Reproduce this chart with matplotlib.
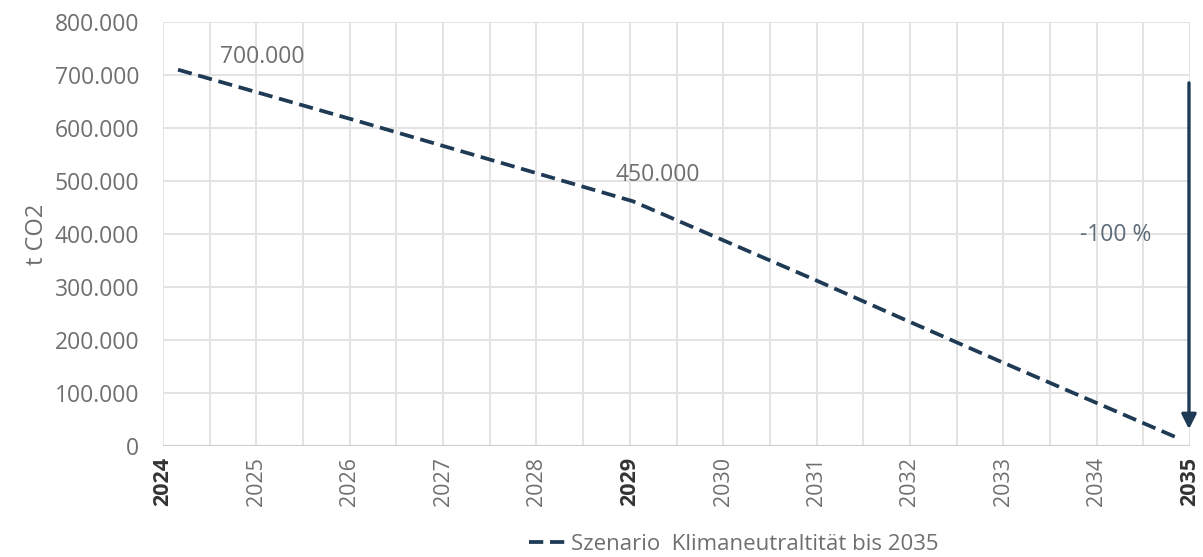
import matplotlib
matplotlib.use('Agg')
import matplotlib.pyplot as plt
import numpy as np

plt.rcParams['font.family'] = ['Open Sans', 'DejaVu Sans']

# Data
years = [2024, 2025, 2026, 2027, 2028, 2029, 2030, 2031, 2032, 2033, 2034, 2035]
emissions = [710000, 661000, 612000, 562000, 512000, 462000, 388000, 314000, 238000, 163000, 89000, 15000]
bold_years = [2024, 2029, 2035]
point_labels = {2024: '700.000', 2029: '450.000'}
y_ticks = [0, 100000, 200000, 300000, 400000, 500000, 600000, 700000, 800000]
series_name = 'Szenario  Klimaneutraltität bis 2035'
change_label = '-100 %'

line_color = '#1e3a54'
text_color = '#6f6f6f'
grid_color = '#e3e3e3'

fig = plt.figure(figsize=(12.03, 5.57), dpi=100)
ax = fig.add_axes([0.1355, 0.1993, 0.8537, 0.7612])

# x-range: the line starts a bit inside the frame
x0, x1 = 2023.835, 2035.133
ax.set_xlim(x0, x1)
ax.set_ylim(0, 800000)

line, = ax.plot(years, emissions, color=line_color, lw=2.7,
                linestyle=(0, (3.8, 1.8)), dash_capstyle='butt',
                label=series_name, zorder=3)

# grid: 22 columns, a label every 2nd line
grid_x = np.linspace(x0, x1, 23)
for gx in grid_x:
    ax.axvline(gx, color=grid_color, lw=1.4, zorder=0)
for gy in y_ticks:
    ax.axhline(gy, color=grid_color, lw=1.4, zorder=0)

ax.set_xticks(grid_x[::2])
ax.set_xticklabels([str(y) for y in years], rotation=90, fontsize=15.5, color=text_color)
for lab, y in zip(ax.get_xticklabels(), years):
    if y in bold_years:
        lab.set_fontweight('bold')
        lab.set_color('#333333')

ax.set_yticks(y_ticks)
ax.set_yticklabels(['0' if v == 0 else f'{v:,.0f}'.replace(',', '.') for v in y_ticks],
                   fontsize=16.5, color=text_color)
ax.tick_params(axis='both', length=0)
ax.tick_params(axis='x', pad=8)
ax.tick_params(axis='y', pad=17)

for s in ax.spines.values():
    s.set_visible(False)
ax.axhline(0, color='#cfcfcf', lw=1.6, zorder=1)

ax.set_ylabel('t CO2', fontsize=17, color=text_color, labelpad=4)

# point labels
ax.annotate(point_labels[2024], xy=(years[0], emissions[0]), xytext=(61, 9),
            textcoords='offset points', ha='center', va='center',
            fontsize=16.5, color=text_color)
ax.annotate(point_labels[2029], xy=(years[5], emissions[5]), xytext=(18, 19),
            textcoords='offset points', ha='center', va='center',
            fontsize=16.5, color=text_color)

# -100 % arrow
ax.annotate('', xy=(0.999, 0.033), xytext=(0.999, 0.863), xycoords='axes fraction',
            arrowprops=dict(arrowstyle='-|>', color=line_color, lw=2.4, mutation_scale=22),
            annotation_clip=False)
ax.text(0.928, 0.498, change_label, transform=ax.transAxes, ha='center', va='center',
        fontsize=16.5, color='#5d6b78')

fig.legend(handles=[line], loc='center', bbox_to_anchor=(0.61, 0.022), frameon=False,
           fontsize=16, labelcolor=text_color, handlelength=1.6, handletextpad=0.3)

fig.savefig('out.png', dpi=100)
